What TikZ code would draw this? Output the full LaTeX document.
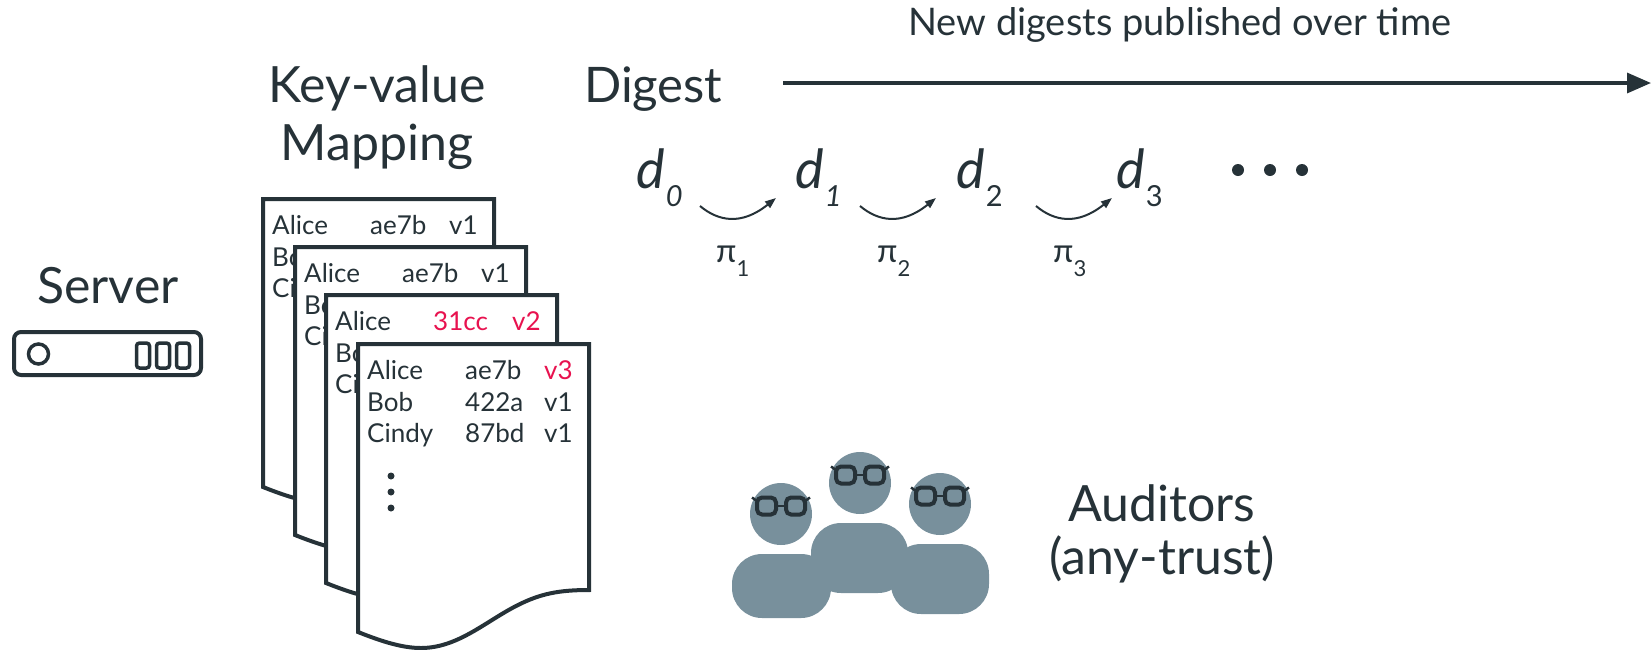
\documentclass[tikz,border=0pt]{standalone}
\usepackage{fontspec}
\setmainfont{Lato}
\usetikzlibrary{arrows.meta}

\definecolor{ink}{HTML}{263238}
\definecolor{crowd}{HTML}{78909C}
\definecolor{accent}{HTML}{E8124F}

\newcommand\fsz[1]{\fontsize{#1}{#1}\selectfont}

% one sheet of the key-value mapping: outline with a wavy bottom edge,
% the Alice row, and the keys of the rows below it
\newcommand\kvsheet[7]{%
  \begin{scope}[shift={(#2,#3)}]
    \pic {sheet};
    \node[cell]  (#1-k1) at (9,35)   {Alice};
    \node[#4]    (#1-h1) at (107,35) {#5};
    \node[#6]    (#1-v1) at (186,35) {#7};
    \node[cell]  (#1-k2) at (9,67)   {Bob};
    \node[cell]  (#1-k3) at (9,98)   {Cindy};
  \end{scope}}

\begin{document}
\begin{tikzpicture}[x=1pt,y=-1pt,
  txt/.style={text=ink, inner sep=0pt},
  heading/.style={txt, font=\fsz{50}, anchor=base},
  cell/.style={txt, font=\fsz{26}, anchor=base west},
  hot/.style={cell, text=accent},
  pageline/.style={draw=ink, line width=4pt, fill=white, line join=miter},
  iconline/.style={draw=ink, line width=4pt},
  hop/.style={draw=ink, line width=2pt, -{Triangle[length=11pt,width=8pt]}},
  digest/.style={txt, font=\fsz{54}\itshape, anchor=base west},
  proof/.style={txt, font=\fsz{33}, anchor=base west},
  sheet/.pic={
    \path[pageline] (0,288) -- (0,0) -- (231,0) -- (231,246)
      .. controls (200,246) and (182,250) .. (160,261)
      .. controls (128,277) and (100,304) .. (63,304)
      .. controls (45,304) and (25,298) .. cycle;
  },
  specs/.pic={
    \draw[ink, line width=4pt, rounded corners=5pt] (-24,-8.5) rectangle (-5,8.5);
    \draw[ink, line width=4pt, rounded corners=5pt] (5,-8.5) rectangle (24,8.5);
    \draw[ink, line width=2.5pt] (-5,0) -- (5,0);
    \draw[ink, line width=2.5pt] (-24,-5) -- (-29,-8.5);
    \draw[ink, line width=2.5pt] (24,-5) -- (29,-8.5);
  }
]
\useasboundingbox (0,0) rectangle (1652,649);

% ---------- server ----------
\node[heading] (server) at (108,303) {Server};
\draw[iconline, rounded corners=7pt] (14,332) rectangle (201,375);
\draw[ink, line width=3.5pt] (38.5,354) circle (10);
\foreach \bx in {136.5,156.5,176.5}
  \draw[ink, line width=3.5pt, rounded corners=3pt] (\bx,343) rectangle (\bx+13,368);

% ---------- key-value mapping ----------
\node[heading] (kv1) at (377,102) {Key-value};
\node[heading] (kv2) at (377,160) {Mapping};

\kvsheet{p1}{263}{199}{cell}{ae7b}{cell}{v1}
\kvsheet{p2}{295}{247}{cell}{ae7b}{cell}{v1}
\kvsheet{p3}{326}{295}{hot}{31cc}{hot}{v2}
\kvsheet{p4}{358}{344}{cell}{ae7b}{hot}{v3}
% remaining entries of the front sheet
\begin{scope}[shift={(358,344)}]
  \node[cell] (p4-h2) at (107,67) {422a};
  \node[cell] (p4-v2) at (186,67) {v1};
  \node[cell] (p4-h3) at (107,98) {87bd};
  \node[cell] (p4-v3) at (186,98) {v1};
  \foreach \dy in {132,148,164}
    \fill[ink] (33,\dy) circle (3.5);
\end{scope}

% ---------- digests over time ----------
\node[txt, font=\fsz{49}, anchor=base west] (dg) at (584,102) {Digest};
\node[txt, font=\fsz{38}, anchor=base west] (over) at (908,35) {New digests published over time};
\coordinate (t0) at (783,83);
\coordinate (t1) at (1651,83);
\draw[ink, line width=3.3pt, -{Triangle[length=24pt,width=20pt]}] (t0) -- (t1);

\node[digest] (d0) at (636,188) {d\kern1pt\raisebox{-18pt}{\fsz{29}0}};
\node[digest] (d1) at (795,188) {d\kern1pt\raisebox{-18pt}{\fsz{29}1}};
\node[digest] (d2) at (956,188) {d\kern1pt\raisebox{-18pt}{\fsz{29}\upshape 2}};
\node[digest] (d3) at (1116,188) {d\kern1pt\raisebox{-18pt}{\fsz{29}\upshape 3}};
\foreach \px in {1238,1270,1302}
  \fill[ink] (\px,170) circle (6);

\coordinate (h1s) at (700,206);  \coordinate (h1e) at (776,198);
\coordinate (h2s) at (860,206);  \coordinate (h2e) at (936,198);
\coordinate (h3s) at (1036,206); \coordinate (h3e) at (1112,198);
\draw[hop] (h1s) .. controls +(18,15) and +(-35,28) .. (h1e);
\draw[hop] (h2s) .. controls +(18,15) and +(-35,28) .. (h2e);
\draw[hop] (h3s) .. controls +(18,15) and +(-35,28) .. (h3e);

\node[proof] (pi1) at (716,262) {π\raisebox{-14pt}{\fsz{22}1}};
\node[proof] (pi2) at (877,262) {π\raisebox{-14pt}{\fsz{22}2}};
\node[proof] (pi3) at (1053,262) {π\raisebox{-14pt}{\fsz{22}3}};

% ---------- auditors ----------
\fill[crowd, rounded corners=30pt] (811,523) rectangle (908,593);
\fill[crowd, rounded corners=30pt] (732,554) rectangle (831,618);
\fill[crowd, rounded corners=30pt] (891,544) rectangle (989,614);
\fill[crowd] (781,514) circle (31);
\fill[crowd] (860,483) circle (31);
\fill[crowd] (940,504) circle (31);
\pic at (781,506) {specs};
\pic at (860,475) {specs};
\pic at (940,496) {specs};

\node[heading] (aud1) at (1162,521) {Auditors};
\node[heading] (aud2) at (1162,574) {(any-trust)};
\end{tikzpicture}
\end{document}
